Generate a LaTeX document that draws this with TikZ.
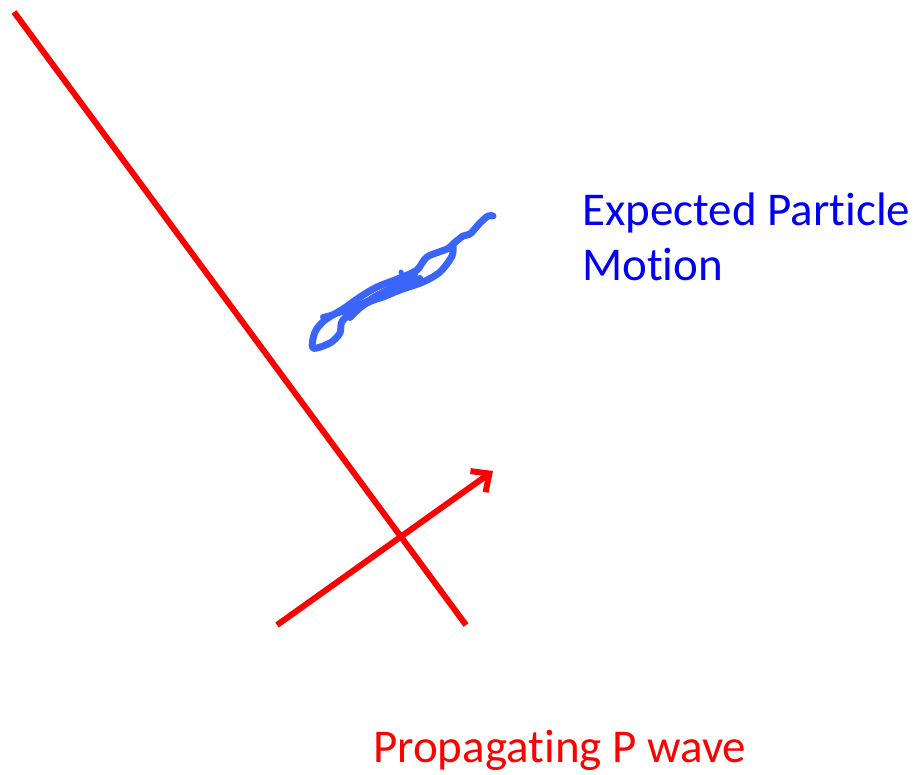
\documentclass[tikz,border=0pt]{standalone}
\usepackage{fontspec}
\setmainfont{Carlito}[Ligatures=NoCommon]
\usetikzlibrary{arrows.meta}
\definecolor{wavered}{RGB}{255,0,0}
\definecolor{textblue}{RGB}{0,0,245}
\definecolor{motionblue}{RGB}{58,100,250}

\begin{document}
\begin{tikzpicture}[x=1pt,y=-1pt,
    label/.style={font=\fontsize{47}{55}\selectfont, inner sep=0pt}]
    \useasboundingbox (0,0) rectangle (921,774);

    \coordinate (fronttop) at (14,12);
    \coordinate (frontbot) at (466,625);
    \coordinate (raystart) at (277,625);
    \coordinate (raytip) at (493,471);

    \draw[wavered, line width=6pt] (fronttop) -- (frontbot);
    \draw[wavered, line width=6pt,
        -{Straight Barb[length=14pt,width=26pt,line width=6pt]}] (raystart) -- (raytip);

    \draw[motionblue, line width=7pt, line join=round, line cap=round]
        plot[smooth, tension=0.5] coordinates {
        (493,216) (488,216) (480,223) (470,234) (463,236) (453,244)
        (447,249) (427,257) (417,270) (400,278) (377,287) (360,297)
        (343,309) (325,320) (315,332) (313,348) (330,343) (340,333)
        (343,320) (367,303) (383,297) (400,290) (423,282) (440,272)
        (452,256) (453,245)};
    \draw[motionblue, line width=6pt, line join=round, line cap=round]
        plot[smooth, tension=0.5] coordinates {
        (323,317) (345,311) (365,302) (390,290) (405,283) (420,278)};
    \draw[motionblue, line width=6pt, line join=round, line cap=round]
        plot[smooth, tension=0.5] coordinates {
        (350,318) (372,298) (395,286) (415,274)};
    \draw[motionblue, line width=5pt, line cap=round]
        (401,272) -- (403,280);

    \node[label, textblue, anchor=base west, align=left] (motion) at (582,280)
        {Expected Particle\\Motion};
    \node[label, wavered, anchor=base west] (pwave) at (373,762) {Propagating P wave};
\end{tikzpicture}
\end{document}
